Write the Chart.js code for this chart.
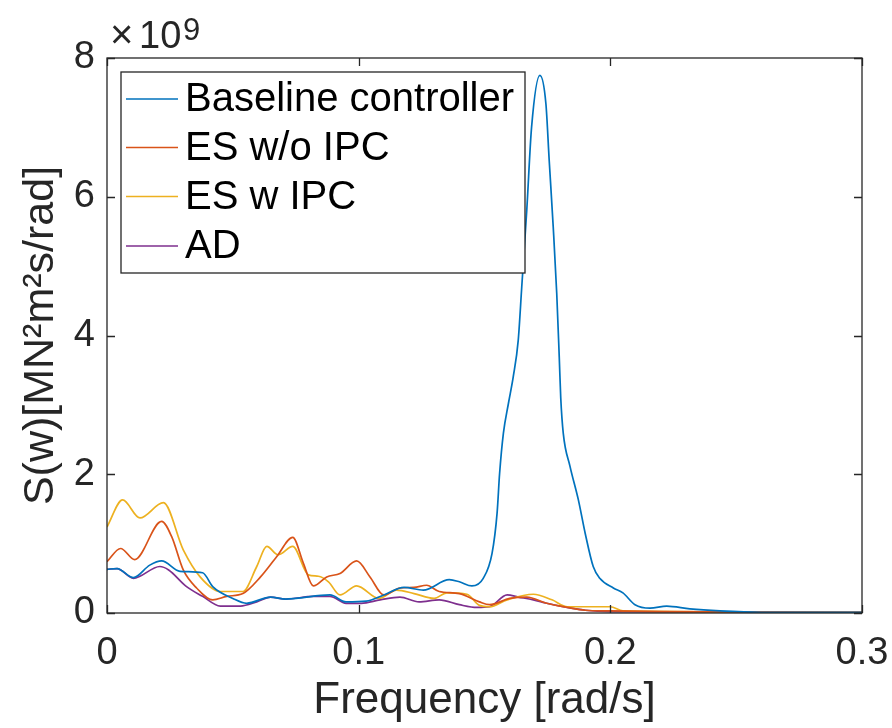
<!DOCTYPE html>
<html>
<head>
<meta charset="utf-8">
<script src="https://cdn.jsdelivr.net/npm/chart.js@4/dist/chart.umd.min.js"></script>
<style>
  html, body { margin: 0; padding: 0; background: #fff; }
  canvas { display: block; }
</style>
</head>
<body>
<canvas id="c" width="892" height="728"></canvas>
<script>
// ---- data (values in units of 1e9 MN^2 m^2 s/rad) ----
const seriesLabels = ['Baseline controller', 'ES w/o IPC', 'ES w IPC', 'AD'];
const seriesColors = ['#0072BD', '#D95319', '#EDB120', '#7E2F8E'];

const baselineFreq = [0, 0.004, 0.0105, 0.017, 0.0217, 0.029, 0.038, 0.042, 0.050, 0.0555, 0.065, 0.071, 0.075, 0.0886, 0.095, 0.103, 0.110, 0.118, 0.1257, 0.136, 0.140, 0.145, 0.1495, 0.153, 0.155, 0.156, 0.1575, 0.1595, 0.1614, 0.1634, 0.1648, 0.1668, 0.1687, 0.172, 0.1744, 0.1757, 0.1773, 0.1787, 0.1797, 0.1803, 0.1813, 0.184, 0.1873, 0.190, 0.1932, 0.1958, 0.2012, 0.205, 0.2098, 0.2158, 0.2224, 0.2316, 0.2436, 0.26, 0.3];
const baselineVals = [0.63, 0.64, 0.51, 0.69, 0.75, 0.60, 0.58, 0.38, 0.21, 0.14, 0.23, 0.20, 0.21, 0.26, 0.16, 0.17, 0.26, 0.37, 0.33, 0.48, 0.45, 0.39, 0.50, 0.86, 1.44, 2.01, 2.59, 3.02, 3.40, 3.93, 4.70, 5.81, 7.00, 7.75, 7.34, 6.53, 5.57, 4.61, 3.69, 3.10, 2.59, 2.11, 1.63, 1.15, 0.67, 0.50, 0.36, 0.29, 0.12, 0.07, 0.10, 0.06, 0.03, 0.01, 0.01];

const esNoIpcFreq = [0, 0.0054, 0.011, 0.0217, 0.0257, 0.0303, 0.0356, 0.042, 0.0476, 0.054, 0.061, 0.0674, 0.0738, 0.078, 0.082, 0.0873, 0.0926, 0.0992, 0.1045, 0.110, 0.1164, 0.122, 0.127, 0.132, 0.140, 0.148, 0.152, 0.160, 0.1668, 0.1747, 0.183, 0.190, 0.200, 0.220, 0.3];
const esNoIpcVals = [0.74, 0.93, 0.77, 1.32, 1.10, 0.62, 0.36, 0.19, 0.24, 0.28, 0.52, 0.81, 1.09, 0.72, 0.39, 0.52, 0.57, 0.75, 0.52, 0.26, 0.36, 0.37, 0.40, 0.31, 0.28, 0.16, 0.12, 0.21, 0.23, 0.14, 0.08, 0.04, 0.03, 0.02, 0.01];

const esIpcFreq = [0, 0.0062, 0.0131, 0.0224, 0.0303, 0.037, 0.045, 0.054, 0.0595, 0.0635, 0.068, 0.0738, 0.080, 0.084, 0.088, 0.0926, 0.0992, 0.108, 0.115, 0.122, 0.130, 0.135, 0.143, 0.148, 0.152, 0.159, 0.1694, 0.1768, 0.183, 0.200, 0.205, 0.3];
const esIpcVals = [1.24, 1.63, 1.37, 1.59, 0.91, 0.52, 0.31, 0.31, 0.67, 0.96, 0.84, 0.96, 0.55, 0.53, 0.45, 0.26, 0.39, 0.21, 0.33, 0.28, 0.21, 0.29, 0.27, 0.11, 0.09, 0.19, 0.27, 0.19, 0.09, 0.09, 0.03, 0.01];

const adFreq = [0, 0.004, 0.0105, 0.021, 0.0245, 0.0316, 0.038, 0.045, 0.053, 0.0595, 0.065, 0.071, 0.082, 0.0886, 0.095, 0.101, 0.1085, 0.1164, 0.124, 0.132, 0.140, 0.147, 0.152, 0.159, 0.1634, 0.1694, 0.1747, 0.1828, 0.190, 0.200, 0.3];
const adVals = [0.63, 0.64, 0.50, 0.67, 0.62, 0.38, 0.24, 0.10, 0.10, 0.16, 0.23, 0.20, 0.24, 0.24, 0.14, 0.14, 0.19, 0.23, 0.16, 0.19, 0.12, 0.08, 0.09, 0.26, 0.23, 0.19, 0.14, 0.08, 0.04, 0.02, 0.01];

const xTicks = [0, 0.1, 0.2, 0.3];
const yTicks = [0, 2, 4, 6, 8];
const yExponentLabel = ['×', '10', '9'];
const xTitle = 'Frequency [rad/s]';
const yTitle = 'S(w)[MN²m²s/rad]';

// ---- build ----
const FONT = "'Liberation Sans', Arial, Helvetica, sans-serif";
const AXIS = '#262626';
const freqs = [baselineFreq, esNoIpcFreq, esIpcFreq, adFreq];
const vals = [baselineVals, esNoIpcVals, esIpcVals, adVals];

const datasets = seriesLabels.map((lab, i) => ({
  label: lab,
  data: freqs[i].map((f, j) => ({ x: f, y: vals[i][j] })),
  borderColor: seriesColors[i],
  backgroundColor: seriesColors[i],
  borderWidth: 1.7,
  pointRadius: 0,
  fill: false,
  cubicInterpolationMode: 'monotone'
}));

const boxPlugin = {
  id: 'boxPlugin',
  afterDatasetsDraw(chart) {
    const { ctx, chartArea: a, scales } = chart;
    ctx.save();
    ctx.strokeStyle = AXIS;
    ctx.lineWidth = 1.3;
    ctx.strokeRect(a.left, a.top, a.right - a.left, a.bottom - a.top);
    const tl = 8;
    ctx.beginPath();
    scales.x.ticks.forEach(t => {
      const px = Math.round(scales.x.getPixelForValue(t.value)) + 0.5;
      ctx.moveTo(px, a.bottom); ctx.lineTo(px, a.bottom - tl);
      ctx.moveTo(px, a.top); ctx.lineTo(px, a.top + tl);
    });
    scales.y.ticks.forEach(t => {
      const py = Math.round(scales.y.getPixelForValue(t.value)) + 0.5;
      ctx.moveTo(a.left, py); ctx.lineTo(a.left + tl, py);
      ctx.moveTo(a.right, py); ctx.lineTo(a.right - tl, py);
    });
    ctx.stroke();

    // exponent label
    ctx.fillStyle = AXIS;
    ctx.textBaseline = 'alphabetic';
    ctx.textAlign = 'left';
    ctx.font = '40px ' + FONT;
    ctx.fillText(yExponentLabel[0], 110, 48);
    ctx.font = '38px ' + FONT;
    ctx.fillText(yExponentLabel[1], 139, 48);
    ctx.font = '31px ' + FONT;
    ctx.fillText(yExponentLabel[2], 183, 40);

    // legend
    const lx = 121, ly = 72, lw = 404, lh = 201;
    ctx.fillStyle = '#fff';
    ctx.fillRect(lx, ly, lw, lh);
    ctx.strokeStyle = AXIS;
    ctx.lineWidth = 1.3;
    ctx.strokeRect(lx, ly, lw, lh);
    const rows = [99, 147.5, 196.5, 246];
    ctx.font = '40px ' + FONT;
    ctx.textBaseline = 'middle';
    chart.data.datasets.forEach((ds, i) => {
      const y = rows[i];
      ctx.strokeStyle = ds.borderColor;
      ctx.lineWidth = 1.7;
      ctx.beginPath();
      ctx.moveTo(126, y); ctx.lineTo(178, y);
      ctx.stroke();
      ctx.fillStyle = '#000';
      ctx.fillText(ds.label, 185, y + 1);
    });
    ctx.restore();
  }
};

new Chart(document.getElementById('c'), {
  type: 'line',
  data: { datasets },
  options: {
    responsive: false,
    animation: false,
    devicePixelRatio: 1,
    layout: { padding: { top: 58, right: 30, left: 0, bottom: 0 } },
    plugins: { legend: { display: false }, tooltip: { enabled: false } },
    scales: {
      x: {
        type: 'linear',
        min: 0, max: 0.3,
        afterFit: s => { s.height = 115; s.paddingLeft = 0; s.paddingRight = 0; },
        afterBuildTicks: s => { s.ticks = xTicks.map(v => ({ value: v })); },
        ticks: {
          color: AXIS,
          font: { family: FONT, size: 38 },
          padding: 18,
          maxRotation: 0,
          callback: v => (v === 0 ? '0' : v.toFixed(1))
        },
        grid: { display: false, drawTicks: false },
        border: { display: false },
        title: {
          display: true, text: xTitle, color: AXIS,
          font: { family: FONT, size: 44, lineHeight: 1.2 },
          padding: { top: 0, bottom: 1 }
        }
      },
      y: {
        type: 'linear',
        min: 0, max: 8,
        afterFit: s => { s.width = 107; s.paddingTop = 0; s.paddingBottom = 0; },
        afterBuildTicks: s => { s.ticks = yTicks.map(v => ({ value: v })); },
        ticks: {
          color: AXIS,
          font: { family: FONT, size: 38 },
          padding: 12,
          callback: v => String(v)
        },
        grid: { display: false, drawTicks: false },
        border: { display: false },
        title: {
          display: true, text: yTitle, color: AXIS,
          font: { family: FONT, size: 43, lineHeight: 1.2 },
          padding: { top: 15, bottom: 0 }
        }
      }
    }
  },
  plugins: [boxPlugin]
});
</script>
</body>
</html>
